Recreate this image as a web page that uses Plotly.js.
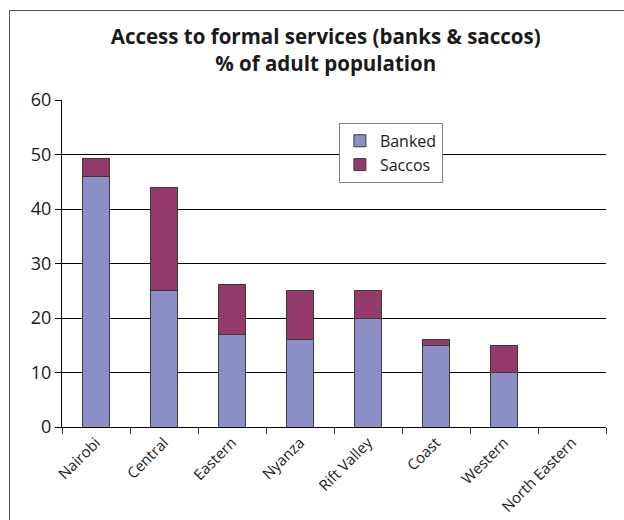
<!DOCTYPE html>
<html>
<head>
<meta charset="utf-8">
<script src="https://cdn.plot.ly/plotly-3.0.1.min.js"></script>
<style>
html,body{margin:0;padding:0;background:#fff;}
#wrap{position:relative;width:624px;height:520px;overflow:hidden;}
#chart{width:624px;height:520px;}
#frame{position:absolute;left:9px;top:10px;width:700px;height:600px;border:1px solid #555;pointer-events:none;box-sizing:border-box;}
</style>
</head>
<body>
<div id="wrap">
<div id="chart"></div>
<div id="frame"></div>
</div>
<script>
const regions = ["Nairobi", "Central", "Eastern", "Nyanza", "Rift Valley", "Coast", "Western", "North Eastern"];
const banked = [46, 25, 17, 16, 20, 15, 10, 0];
const saccos = [3.2, 19, 9.2, 9, 5, 1.1, 5, 0];
const yTicks = [0, 10, 20, 30, 40, 50, 60];

const fontFam = '"Open Sans", "Noto Sans", sans-serif';

const traces = [
  {
    type: 'bar', name: 'Banked', x: regions, y: banked,
    marker: {color: '#8B8FC6', line: {color: '#3a3a3a', width: 1}}
  },
  {
    type: 'bar', name: 'Saccos', x: regions, y: saccos,
    marker: {color: '#943A6B', line: {color: '#3a3a3a', width: 1}}
  }
];

const layout = {
  width: 624, height: 520,
  margin: {l: 62, r: 18, t: 100, b: 93},
  paper_bgcolor: '#fff', plot_bgcolor: '#fff',
  barmode: 'stack', bargap: 0.6,
  font: {family: fontFam, size: 15, color: '#1a1a1a'},
  title: {
    text: '<b>Access to formal services (banks & saccos)</b><br><b>% of adult population</b>',
    font: {family: fontFam, size: 20.5, color: '#1a1a1a'},
    x: 0.522, xanchor: 'center', xref: 'container',
    y: 0.915, yanchor: 'top', yref: 'container'
  },
  xaxis: {
    type: 'category', tickangle: -45,
    ticks: 'outside', tickson: 'boundaries', ticklen: 6, tickcolor: '#333', tickwidth: 1,
    showline: true, linecolor: '#000', linewidth: 1,
    showgrid: false, zeroline: false,
    tickfont: {family: fontFam, size: 15, color: '#1a1a1a'}
  },
  yaxis: {
    range: [0, 60], tickvals: yTicks, ticktext: yTicks.map(String),
    ticks: 'outside', ticklen: 6, tickcolor: '#000', tickwidth: 1,
    showline: true, linecolor: '#000', linewidth: 1,
    showgrid: true, gridcolor: '#000', gridwidth: 1,
    zeroline: false,
    tickfont: {family: fontFam, size: 18, color: '#1a1a1a'}
  },
  legend: {
    x: 0.509, xanchor: 'left', y: 0.93, yanchor: 'top',
    bgcolor: '#fff', bordercolor: '#808080', borderwidth: 1,
    font: {family: fontFam, size: 16, color: '#1a1a1a'},
    traceorder: 'normal'
  },
  showlegend: true
};

Plotly.newPlot('chart', traces, layout, {displayModeBar: false, staticPlot: true});
</script>
</body>
</html>
